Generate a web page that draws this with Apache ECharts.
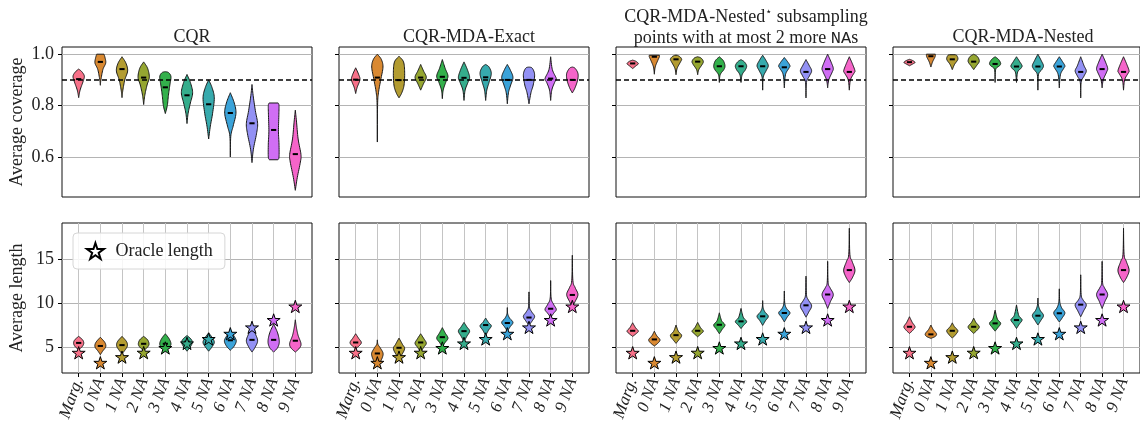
<!DOCTYPE html>
<html>
<head>
<meta charset="utf-8">
<script src="https://cdn.jsdelivr.net/npm/echarts@6/dist/echarts.min.js"></script>
<style>html,body{margin:0;padding:0;background:#fff}#c{width:1140px;height:429px}</style>
</head>
<body>
<div id="c"></div>
<script>
// ---------------- DATA ----------------
const CATS = ['Marg.', '0 NA', '1 NA', '2 NA', '3 NA', '4 NA', '5 NA', '6 NA', '7 NA', '8 NA', '9 NA'];
const PANEL_TITLES = ['CQR', 'CQR-MDA-Exact', 'NESTED_STAR', 'CQR-MDA-Nested'];
const COV_TICKS = [0.6, 0.8, 1.0];
const LEN_TICKS = [5, 10, 15];
const TARGET_COVERAGE = 0.9;
const ORACLE_LENGTH = [4.32, 3.17, 3.82, 4.33, 4.87, 5.39, 5.9, 6.5, 7.23, 8.08, 9.63];

// violin profiles: [value, relative half-width]
const cqrCovMedian = [0.903, 0.970, 0.942, 0.909, 0.871, 0.840, 0.805, 0.771, 0.731, 0.705, 0.611];
const cqrCovViolin = [
  [[0.831,0],[0.86,0.25],[0.895,0.8],[0.915,1],[0.932,0.55],[0.942,0]],
  [[0.879,0],[0.90,0.1],[0.94,0.45],[0.965,0.95],[0.985,0.85],[1.0,0.65]],
  [[0.831,0],[0.86,0.15],[0.90,0.5],[0.935,1],[0.965,0.7],[0.99,0]],
  [[0.804,0],[0.84,0.2],[0.88,0.6],[0.91,1],[0.945,0.7],[0.97,0]],
  [[0.769,0],[0.80,0.35],[0.84,0.55],[0.88,0.8],[0.912,1],[0.928,0.6],[0.932,0]],
  [[0.73,0],[0.77,0.2],[0.81,0.6],[0.85,1],[0.89,0.6],[0.921,0]],
  [[0.67,0],[0.72,0.3],[0.77,0.7],[0.83,1],[0.87,0.6],[0.90,0]],
  [[0.60,0],[0.68,0.08],[0.72,0.5],[0.77,1],[0.81,0.7],[0.85,0]],
  [[0.578,0],[0.63,0.25],[0.69,0.8],[0.73,1],[0.78,0.6],[0.84,0.2],[0.882,0]],
  [[0.589,0.75],[0.60,0.95],[0.65,0.95],[0.70,0.85],[0.76,0.92],[0.80,0.95],[0.81,0.8]],
  [[0.47,0],[0.52,0.35],[0.58,0.9],[0.61,1],[0.67,0.5],[0.74,0.2],[0.782,0]]
];
const exactCovMedian = [0.901, 0.909, 0.899, 0.909, 0.912, 0.908, 0.910, 0.900, 0.900, 0.905, 0.900];
const exactCovViolin = [
  [[0.847,0],[0.87,0.25],[0.90,0.75],[0.92,0.55],[0.947,0]],
  [[0.658,0],[0.80,0.04],[0.85,0.2],[0.90,0.6],[0.95,1],[0.98,0.7],[1.0,0]],
  [[0.83,0],[0.85,0.5],[0.88,0.9],[0.93,1],[0.97,0.8],[0.992,0]],
  [[0.86,0],[0.885,0.5],[0.91,1],[0.935,0.5],[0.96,0]],
  [[0.827,0],[0.86,0.15],[0.89,0.6],[0.915,1],[0.945,0.5],[0.979,0]],
  [[0.82,0],[0.86,0.2],[0.89,0.7],[0.91,1],[0.94,0.6],[0.97,0]],
  [[0.82,0],[0.86,0.2],[0.89,0.6],[0.925,1],[0.95,0.6],[0.96,0]],
  [[0.807,0],[0.85,0.2],[0.88,0.6],[0.91,1],[0.94,0.5],[0.96,0]],
  [[0.807,0],[0.85,0.35],[0.88,0.75],[0.92,1],[0.945,0.6],[0.95,0]],
  [[0.82,0],[0.86,0.2],[0.89,0.7],[0.905,1],[0.94,0.3],[0.99,0]],
  [[0.849,0],[0.87,0.5],[0.90,0.95],[0.925,1],[0.945,0.5],[0.95,0]]
];
const nestedStarCovMedian = [0.964, 0.990, 0.980, 0.971, 0.953, 0.953, 0.953, 0.949, 0.931, 0.942, 0.931];
const nestedStarCovViolin = [
  [[0.944,0],[0.955,0.6],[0.963,1],[0.972,0.6],[0.977,0]],
  [[0.922,0],[0.95,0.15],[0.975,0.6],[0.99,0.9],[0.996,0.9]],
  [[0.92,0],[0.945,0.2],[0.97,0.8],[0.98,1],[0.99,0.7],[0.996,0.2]],
  [[0.92,0],[0.94,0.2],[0.96,0.8],[0.972,1],[0.985,0.6],[0.99,0]],
  [[0.89,0],[0.92,0.15],[0.94,0.8],[0.955,1],[0.975,0.7],[0.99,0]],
  [[0.89,0],[0.92,0.2],[0.94,0.8],[0.955,1],[0.97,0.6],[0.979,0]],
  [[0.86,0],[0.91,0.1],[0.935,0.6],[0.955,1],[0.975,0.6],[0.996,0]],
  [[0.869,0],[0.92,0.2],[0.945,0.8],[0.955,1],[0.97,0.6],[0.987,0]],
  [[0.83,0],[0.89,0.08],[0.915,0.6],[0.935,1],[0.955,0.6],[0.979,0]],
  [[0.869,0],[0.90,0.2],[0.93,0.8],[0.945,1],[0.97,0.6],[1.0,0]],
  [[0.86,0],[0.90,0.2],[0.925,0.8],[0.935,1],[0.96,0.6],[0.99,0]]
];
const nestedCovMedian = [0.969, 0.992, 0.980, 0.971, 0.962, 0.952, 0.952, 0.952, 0.931, 0.942, 0.931];
const nestedCovViolin = [
  [[0.955,0],[0.962,0.6],[0.968,1],[0.975,0.6],[0.98,0]],
  [[0.95,0],[0.97,0.3],[0.99,0.75],[1.0,0.8]],
  [[0.94,0],[0.96,0.4],[0.98,1],[0.995,0.8],[0.998,0.5]],
  [[0.94,0],[0.955,0.5],[0.972,1],[0.99,0.7],[1.0,0]],
  [[0.89,0],[0.94,0.1],[0.955,0.8],[0.965,1],[0.98,0.6],[0.99,0]],
  [[0.89,0],[0.93,0.2],[0.945,0.8],[0.955,1],[0.97,0.6],[0.99,0]],
  [[0.86,0],[0.92,0.1],[0.94,0.7],[0.955,1],[0.975,0.6],[1.0,0]],
  [[0.869,0],[0.92,0.2],[0.945,0.8],[0.955,1],[0.97,0.6],[0.99,0]],
  [[0.83,0],[0.89,0.08],[0.915,0.6],[0.935,1],[0.955,0.6],[0.99,0]],
  [[0.869,0],[0.90,0.2],[0.93,0.8],[0.945,1],[0.97,0.6],[1.0,0]],
  [[0.86,0],[0.90,0.2],[0.925,0.8],[0.935,1],[0.96,0.6],[0.99,0]]
];

const cqrLenMedian = [5.45, 5.1, 5.2, 5.35, 5.35, 5.6, 5.6, 5.75, 5.8, 5.8, 5.7];
const cqrLenViolin = [
  [[4.7,0],[5.0,0.6],[5.4,0.9],[5.8,0.7],[6.2,0]],
  [[4.1,0],[4.5,0.4],[5.0,0.95],[5.5,0.8],[6.1,0]],
  [[4.2,0],[4.6,0.5],[5.1,0.95],[5.6,0.8],[6.2,0]],
  [[4.6,0],[4.9,0.6],[5.3,0.95],[5.8,0.7],[6.2,0]],
  [[4.5,0],[4.9,0.6],[5.3,1],[5.9,0.7],[6.5,0]],
  [[4.5,0],[5.0,0.6],[5.5,0.95],[5.9,0.7],[6.3,0]],
  [[4.5,0],[5.0,0.6],[5.5,1],[6.0,0.7],[6.6,0]],
  [[4.6,0],[5.1,0.7],[5.7,1.05],[6.3,0.6],[6.9,0]],
  [[4.4,0],[5.0,0.6],[5.7,1],[6.5,0.6],[7.4,0]],
  [[4.4,0],[4.9,0.7],[5.6,1],[6.6,0.7],[7.6,0]],
  [[4.4,0],[4.9,0.8],[5.4,1],[6.3,0.5],[7.2,0.2],[8.1,0]]
];
const exactLenMedian = [5.5, 4.24, 4.89, 5.5, 6.11, 6.8, 7.5, 7.73, 8.36, 9.37, 10.95];
const exactLenViolin = [
  [[4.8,0],[5.1,0.6],[5.5,1],[6.0,0.5],[6.5,0]],
  [[2.7,0],[3.1,0.4],[3.8,0.9],[4.3,1],[4.9,0.5],[5.3,0.1],[5.8,0]],
  [[3.7,0],[4.1,0.5],[4.8,1],[5.3,0.6],[6.0,0]],
  [[4.4,0],[4.9,0.5],[5.4,1],[5.9,0.6],[6.5,0]],
  [[5.0,0],[5.5,0.5],[6.0,1],[6.6,0.5],[7.2,0]],
  [[5.6,0],[6.2,0.5],[6.8,1],[7.3,0.5],[7.8,0]],
  [[6.3,0],[6.9,0.5],[7.4,1],[7.8,0.5],[8.3,0]],
  [[6.8,0],[7.3,0.5],[7.8,1],[8.3,0.4],[8.8,0.06],[9.5,0]],
  [[7.5,0],[8.0,0.6],[8.5,1],[9.0,0.5],[9.6,0.08],[11.3,0]],
  [[8.4,0],[8.9,0.6],[9.3,1],[9.9,0.5],[10.6,0.08],[12.6,0]],
  [[9.6,0],[10.2,0.5],[11.0,1],[11.8,0.5],[12.6,0.1],[15.5,0]]
];
const nestedStarLenMedian = [6.84, 5.85, 6.34, 6.84, 7.53, 7.92, 8.5, 8.88, 9.76, 11.0, 13.8];
const nestedStarLenViolin = [
  [[6.2,0],[6.5,0.6],[6.8,1],[7.2,0.5],[7.76,0]],
  [[5.1,0],[5.4,0.6],[5.8,1],[6.3,0.4],[6.8,0]],
  [[5.4,0],[5.8,0.5],[6.3,1],[6.8,0.4],[7.5,0]],
  [[6.15,0],[6.5,0.6],[6.8,1],[7.2,0.5],[7.8,0]],
  [[6.5,0],[7.0,0.5],[7.5,1],[8.0,0.4],[8.9,0]],
  [[7.1,0],[7.5,0.5],[7.9,1],[8.4,0.4],[9.4,0]],
  [[7.46,0],[8.0,0.5],[8.5,1],[9.0,0.4],[9.5,0.08],[10.3,0]],
  [[7.85,0],[8.4,0.5],[8.9,1],[9.4,0.4],[10.0,0.08],[11.4,0]],
  [[8.4,0],[9.0,0.5],[9.7,1],[10.4,0.4],[11.0,0.08],[13.1,0]],
  [[9.4,0],[10.2,0.5],[11.0,1],[11.8,0.4],[12.4,0.08],[14.8,0]],
  [[12.37,0],[13.0,0.6],[13.8,1],[14.8,0.5],[15.6,0.1],[18.6,0]]
];
const nestedLenMedian = [7.3, 6.43, 6.84, 7.3, 7.69, 8.07, 8.57, 8.85, 9.84, 11.0, 13.8];
const nestedLenViolin = [
  [[6.54,0],[6.9,0.6],[7.3,1],[7.8,0.5],[8.45,0]],
  [[5.97,0],[6.2,0.8],[6.5,1],[7.0,0.4],[7.5,0]],
  [[6.0,0],[6.4,0.6],[6.85,1],[7.3,0.4],[7.75,0]],
  [[6.54,0],[6.9,0.6],[7.3,1],[7.8,0.4],[8.3,0]],
  [[6.8,0],[7.2,0.5],[7.7,1],[8.2,0.4],[9.2,0]],
  [[7.1,0],[7.6,0.5],[8.1,1],[8.6,0.4],[9.8,0]],
  [[7.5,0],[8.0,0.5],[8.6,1],[9.2,0.4],[9.8,0.08],[10.6,0]],
  [[7.85,0],[8.3,0.5],[8.9,1],[9.5,0.4],[10.2,0.08],[11.65,0]],
  [[8.45,0],[9.1,0.5],[9.8,1],[10.4,0.4],[11.0,0.08],[13.26,0]],
  [[9.4,0],[10.2,0.5],[11.0,1],[11.8,0.4],[12.4,0.08],[14.8,0]],
  [[12.37,0],[13.0,0.6],[13.8,1],[14.8,0.5],[15.6,0.1],[18.6,0]]
];

// ---------------- STYLE ----------------
const COLORS = ['#f77189','#d98932','#b39c31','#95a631','#33b04b','#35ad8c','#37aaad','#3ba3d9','#9391f4','#d06ef4','#f564c9'];
const FONT = 'Liberation Serif';
const MAXW = 0.26, MEDW = 0.12;
const PANEL_LEFT = [62, 339, 616, 893];
const PANEL_TOP = [47, 223];
const PW = 250, PH = 150;
const STAR = 'path://M0,-10L2.245,-3.09L9.511,-3.09L3.633,1.18L5.878,8.09L0,3.82L-5.878,8.09L-3.633,1.18L-9.511,-3.09L-2.245,-3.09Z';

function densify(p) {
  const out = [], n = p.length;
  for (let k = 0; k < n - 1; k++) {
    const p0 = p[Math.max(k - 1, 0)], p1 = p[k], p2 = p[k + 1], p3 = p[Math.min(k + 2, n - 1)];
    for (let s = 0; s < 8; s++) {
      const t = s / 8, t2 = t * t, t3 = t2 * t;
      const f = (a, b, c, d) => 0.5 * (2 * b + (-a + c) * t + (2 * a - 5 * b + 4 * c - d) * t2 + (-a + 3 * b - 3 * c + d) * t3);
      out.push([f(p0[0], p1[0], p2[0], p3[0]), Math.max(0, f(p0[1], p1[1], p2[1], p3[1]))]);
    }
  }
  out.push(p[n - 1]);
  return out;
}

function violinRenderer(profiles, medians) {
  return function (params, api) {
    const i = api.value(0);
    const prof = densify(profiles[i]);
    const L = [], R = [];
    prof.forEach(([y, w]) => {
      L.push(api.coord([i - w * MAXW, y]));
      R.push(api.coord([i + w * MAXW, y]));
    });
    const pts = L.concat(R.reverse());
    const a = api.coord([i - MEDW, medians[i]]), b = api.coord([i + MEDW, medians[i]]);
    return {
      type: 'group',
      children: [
        { type: 'polygon', shape: { points: pts }, style: { fill: COLORS[i], stroke: '#1a1a1a', lineWidth: 1 } },
        { type: 'line', shape: { x1: a[0], y1: a[1], x2: b[0], y2: b[1] }, style: { stroke: '#000', lineWidth: 2 } }
      ]
    };
  };
}

const covSets = [[cqrCovViolin, cqrCovMedian], [exactCovViolin, exactCovMedian], [nestedStarCovViolin, nestedStarCovMedian], [nestedCovViolin, nestedCovMedian]];
const lenSets = [[cqrLenViolin, cqrLenMedian], [exactLenViolin, exactLenMedian], [nestedStarLenViolin, nestedStarLenMedian], [nestedLenViolin, nestedLenMedian]];

const grid = [], xAxis = [], yAxis = [], series = [], title = [];
const tickIdx = CATS.map((c, i) => i);

for (let row = 0; row < 2; row++) {
  for (let col = 0; col < 4; col++) {
    const g = row * 4 + col;
    grid.push({ left: PANEL_LEFT[col], top: PANEL_TOP[row], width: PW, height: PH, show: true, borderColor: '#111', borderWidth: 1, backgroundColor: 'transparent' });
    const bottom = row === 1;
    xAxis.push({
      type: 'value', gridIndex: g, min: -0.77, max: 10.77, position: 'bottom',
      axisLine: { show: false, onZero: false },
      axisTick: { show: bottom, customValues: tickIdx, length: 4, lineStyle: { color: '#000' } },
      axisLabel: { show: bottom, customValues: tickIdx, formatter: v => CATS[Math.round(v)], rotate: 70, margin: 6, fontFamily: FONT, fontStyle: 'italic', fontSize: 17, color: '#222' },
      splitLine: { show: bottom, lineStyle: { color: '#c4c4c4', width: 1 } }
    });
    const ticks = bottom ? LEN_TICKS : COV_TICKS;
    yAxis.push({
      type: 'value', gridIndex: g, position: 'left',
      min: bottom ? 2.0 : 0.444, max: bottom ? 19.2 : 1.028,
      name: col === 0 ? (bottom ? 'Average length' : 'Average coverage') : '',
      nameLocation: 'middle', nameGap: 36,
      nameTextStyle: { fontFamily: FONT, fontSize: 18, color: '#222' },
      axisLine: { show: false, onZero: false },
      axisTick: { show: true, customValues: ticks, length: 4, lineStyle: { color: '#000' } },
      axisLabel: { show: col === 0, customValues: ticks, formatter: v => bottom ? String(v) : v.toFixed(1), margin: 8, fontFamily: FONT, fontSize: 18, color: '#222' },
      splitLine: { show: true, lineStyle: { color: '#b4b4b4', width: 1 } }
    });
    const set = bottom ? lenSets[col] : covSets[col];
    const s = {
      type: 'custom', xAxisIndex: g, yAxisIndex: g, z: 2,
      renderItem: violinRenderer(set[0], set[1]),
      encode: { x: 0, y: 1 },
      data: set[1].map((m, i) => [i, m])
    };
    if (!bottom) {
      s.markLine = { silent: true, symbol: 'none', z: 6, label: { show: false },
        lineStyle: { type: [5, 3], color: '#000', width: 1.5 }, data: [{ yAxis: TARGET_COVERAGE }] };
    }
    series.push(s);
    if (bottom) {
      series.push({
        type: 'scatter', name: 'Oracle length', xAxisIndex: g, yAxisIndex: g, z: 8,
        symbol: STAR, symbolSize: 13, symbolKeepAspect: true,
        itemStyle: { color: '#fff', borderColor: '#000', borderWidth: 1, opacity: 1 },
        data: ORACLE_LENGTH.map((v, i) => ({ value: [i, v], itemStyle: { color: COLORS[i] } }))
      });
    }
  }
}

const titleStyle = { fontFamily: FONT, fontSize: 18, fontWeight: 'normal', color: '#222' };
[0, 1, 3].forEach(col => {
  title.push({ text: PANEL_TITLES[col], left: PANEL_LEFT[col] + PW / 2, top: 23, textAlign: 'center', textStyle: titleStyle });
});
title.push({
  text: 'CQR-MDA-Nested{sup|⋆} subsampling\npoints with at most 2 more {mono|NA}s',
  left: PANEL_LEFT[2] + PW / 2, top: 2, textAlign: 'center',
  textStyle: Object.assign({}, titleStyle, {
    lineHeight: 21,
    rich: {
      sup: { fontFamily: 'DejaVu Sans', fontSize: 11, verticalAlign: 'top', lineHeight: 21, color: '#222', padding: [0, 0, 6, 0] },
      mono: { fontFamily: 'Liberation Mono', fontSize: 17, lineHeight: 21, color: '#222' }
    }
  })
});

const chart = echarts.init(document.getElementById('c'));
chart.setOption({
  animation: false,
  backgroundColor: '#fff',
  title: title,
  grid: grid,
  xAxis: xAxis,
  yAxis: yAxis,
  legend: {
    data: ['Oracle length'], left: 73, top: 233, orient: 'horizontal',
    itemWidth: 30, itemHeight: 16, padding: [9, 12, 9, 13],
    backgroundColor: 'rgba(255,255,255,0.85)', borderColor: '#d6d6d6', borderWidth: 1, borderRadius: 4,
    textStyle: { fontFamily: FONT, fontSize: 18, color: '#222' },
    selectedMode: false
  },
  series: series
});
</script>
</body>
</html>
